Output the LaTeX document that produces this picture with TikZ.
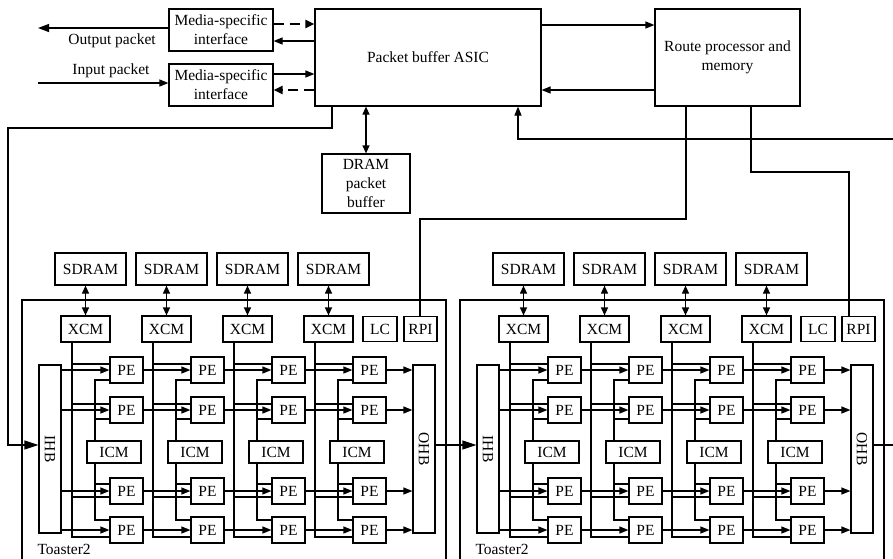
\documentclass[tikz,border=0pt]{standalone}
\usepackage{fontspec}
\setmainfont{Liberation Serif}
\usetikzlibrary{arrows.meta,calc}
\begin{document}
\begin{tikzpicture}[x=1pt,y=-1pt,
  every node/.style={font=\fontsize{15.5}{19}\selectfont},
  box/.style={draw,line width=1.2pt,inner sep=0pt,align=center},
  ln/.style={line width=1.2pt},
  arr/.style={ln,-{Triangle[length=9pt,width=7pt]}},
  bigarr/.style={ln,-{Triangle[length=14pt,width=9pt]}},
  dbl/.style={ln,{Triangle[length=8pt,width=7pt]}-{Triangle[length=8pt,width=7pt]}},
  dasharr/.style={line width=2.6pt,dash pattern=on 10pt off 6pt,-{Triangle[length=9pt,width=8pt]}},
]
\useasboundingbox (0,0) rectangle (893,558);

% top part
\node[box,minimum width=104pt,minimum height=42pt] (msi1) at (221,30) {Media-specific\\interface};
\node[box,minimum width=104pt,minimum height=42pt] (msi2) at (221,85) {Media-specific\\interface};
\node[box,minimum width=226pt,minimum height=97pt] (asic) at (428,57.5) {Packet buffer ASIC};
\node[box,minimum width=145pt,minimum height=97pt] (rp) at (727.5,57.5) {Route processor and\\memory};
\node[box,minimum width=88pt,minimum height=59pt] (dram) at (366,183.5) {DRAM\\packet\\buffer};
\node (outlbl) at (112,41) {Output packet};
\node (inlbl) at (111,71) {Input packet};

\coordinate (outend) at (38,28);
\draw[ln,-{Triangle[length=11pt,width=8pt]}] (msi1.west |- outend) -- (outend);
\coordinate (instart) at (38,83);
\draw[arr] (instart) -- (instart -| msi2.west);

\coordinate (d1s) at ([yshift=6pt]msi1.east);
\coordinate (d1e) at (d1s -| asic.west);
\draw[dasharr] (d1s) -- (d1e);
\coordinate (s1e) at ([yshift=-11pt]msi1.east);
\coordinate (s1s) at (s1e -| asic.west);
\draw[arr] (s1s) -- (s1e);
\coordinate (s2s) at ([yshift=11pt]msi2.east);
\coordinate (s2e) at (s2s -| asic.west);
\draw[arr] (s2s) -- (s2e);
\coordinate (d2e) at ([yshift=-5pt]msi2.east);
\coordinate (d2s) at (d2e -| asic.west);
\draw[dasharr] (d2s) -- (d2e);

\coordinate (ar1) at ([yshift=32.5pt]asic.east);
\draw[arr] (ar1) -- (ar1 -| rp.west);
\coordinate (ar2) at ([yshift=-32.5pt]rp.west);
\draw[arr] (ar2) -- (ar2 -| asic.east);
\draw[dbl] (asic.south -| dram.north) -- (dram.north);

% toasters
\foreach \t/\dx in {L/0,R/438}{
  \draw[ln] (22+\dx,560) -- (22+\dx,300) -- (446+\dx,300) -- (446+\dx,560);
  \node[anchor=west] (toast\t) at (34+\dx,549) {Toaster2};
  \node[box,minimum width=22pt,minimum height=168pt] (ihb\t) at (50+\dx,449) {};
  \node[rotate=-90] at (ihb\t) {IHB};
  \node[box,minimum width=22pt,minimum height=168pt] (ohb\t) at (424+\dx,449) {};
  \node[rotate=-90] at (ohb\t) {OHB};
  \node[box,minimum width=34pt,minimum height=25pt] (lc\t) at (380+\dx,329) {LC};
  \node[box,minimum width=33pt,minimum height=25pt] (rpi\t) at (420.5+\dx,329) {RPI};
  \foreach \c in {0,...,3}{
    \pgfmathsetmacro\cx{81*\c+\dx}
    \node[box,minimum width=71pt,minimum height=32pt] (sd\t\c) at (90.5+\cx,269) {SDRAM};
    \node[box,minimum width=49pt,minimum height=26pt] (xcm\t\c) at (85.5+\cx,329) {XCM};
    \node[box,minimum width=54pt,minimum height=22pt] (icm\t\c) at (114+\cx,452) {ICM};
    \foreach \r/\y in {1/370,2/410,3/491,4/530}{
      \node[box,minimum width=33pt,minimum height=26pt] (pe\t\r\c) at (126.5+\cx,\y) {PE};
    }
    \draw[dbl] (sd\t\c.south -| xcm\t\c.north) -- (xcm\t\c.north);
    \coordinate (xl\t\c) at (72+\cx,342);
    \coordinate (it\t\c) at (95+\cx,441);
    \coordinate (ib\t\c) at (95+\cx,463);
    \draw[ln] (xl\t\c) |- ([yshift=6pt]pe\t1\c.west);
    \draw[ln] (xl\t\c) |- ([yshift=6pt]pe\t2\c.west);
    \draw[ln] (xl\t\c) |- ([yshift=-6pt]pe\t3\c.west);
    \draw[ln] (xl\t\c) |- ([yshift=-7pt]pe\t4\c.west);
    \draw[ln] (it\t\c) |- ([yshift=-10pt]pe\t1\c.west);
    \draw[ln] (it\t\c) |- ([yshift=-9pt]pe\t2\c.west);
    \draw[ln] (ib\t\c) |- ([yshift=7pt]pe\t3\c.west);
    \draw[ln] (ib\t\c) |- ([yshift=10pt]pe\t4\c.west);
  }
  \foreach \r in {1,...,4}{
    \draw[arr] (pe\t\r0.west -| ihb\t.east) -- (pe\t\r0.west);
    \foreach \c/\n in {0/1,1/2,2/3}{
      \draw[arr] (pe\t\r\c.east) -- (pe\t\r\n.west);
    }
    \draw[arr] (pe\t\r3.east) -- (pe\t\r3.east -| ohb\t.west);
  }
}

% long connectors
\coordinate (loopx) at (332,128);
\coordinate (loopl) at (8,128);
\coordinate (ihbinL) at ([yshift=4pt]ihbL.west);
\draw[bigarr] (asic.south -| loopx) -- (loopx) -- (loopl) |- (ihbinL);
\coordinate (ohbout) at ([yshift=4pt]ohbL.east);
\draw[bigarr] (ohbout) -- (ohbout -| ihbR.west);
\coordinate (ohbRout) at ([yshift=4pt]ohbR.east);
\coordinate (edgeR) at (893,445);
\draw[ln] (ohbRout) -- (edgeR);
\coordinate (edge2) at (893,139);
\coordinate (retx) at (518,139);
\draw[arr] (edge2) -- (retx) -- (retx |- asic.south);
\coordinate (rp1) at (686,219);
\coordinate (rp1b) at (420,219);
\draw[ln] (rp.south -| rp1) -- (rp1) -- (rp1b) -- (rp1b |- rpiL.north);
\coordinate (rp2) at (751,172);
\coordinate (rp2b) at (849,172);
\draw[ln] (rp.south -| rp2) -- (rp2) -- (rp2b) -- (rp2b |- rpiR.north);
\end{tikzpicture}
\end{document}
